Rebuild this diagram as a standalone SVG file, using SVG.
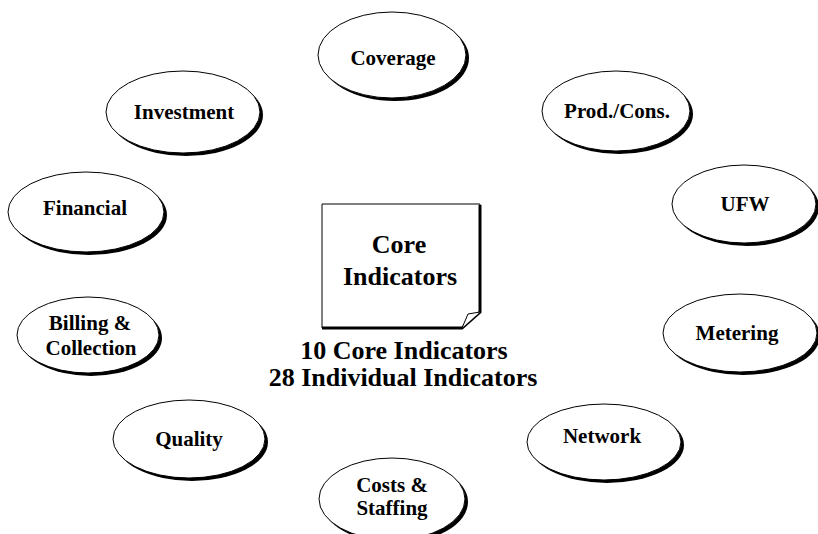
<svg xmlns="http://www.w3.org/2000/svg" width="818" height="534" viewBox="0 0 818 534">
<style>
.sh{fill:#000}
.el{fill:#fff;stroke:#000;stroke-width:1}
text{font-family:'Liberation Serif','Times New Roman',serif;font-weight:bold;text-anchor:middle;fill:#000}
.lb{font-size:21px}
.big{font-size:26px}
</style>
<rect width="818" height="534" fill="#fff"/>
<g id="coverage"><ellipse class="sh" cx="395" cy="58" rx="74" ry="43"/><ellipse class="el" cx="392" cy="55" rx="74" ry="43"/><text class="lb" x="393" y="65">Coverage</text></g>
<g id="investment"><ellipse class="sh" cx="186" cy="115" rx="77" ry="41"/><ellipse class="el" cx="183" cy="112" rx="77" ry="41"/><text class="lb" x="184" y="119">Investment</text></g>
<g id="prodcons"><ellipse class="sh" cx="619" cy="114" rx="74" ry="40"/><ellipse class="el" cx="616" cy="111" rx="74" ry="40"/><text class="lb" x="617" y="118">Prod./Cons.</text></g>
<g id="financial"><ellipse class="sh" cx="89" cy="215" rx="78" ry="40"/><ellipse class="el" cx="86" cy="212" rx="78" ry="40"/><text class="lb" x="85" y="215">Financial</text></g>
<g id="ufw"><ellipse class="sh" cx="747" cy="207" rx="72" ry="39"/><ellipse class="el" cx="744" cy="204" rx="72" ry="39"/><text class="lb" x="745" y="211">UFW</text></g>
<g id="billing"><ellipse class="sh" cx="91" cy="338" rx="71" ry="38"/><ellipse class="el" cx="88" cy="335" rx="71" ry="38"/><text class="lb" x="90" y="330">Billing &amp;</text><text class="lb" x="91" y="355">Collection</text></g>
<g id="metering"><ellipse class="sh" cx="743" cy="336" rx="77" ry="39"/><ellipse class="el" cx="740" cy="333" rx="77" ry="39"/><text class="lb" x="737" y="340">Metering</text></g>
<g id="quality"><ellipse class="sh" cx="192" cy="442" rx="76" ry="39"/><ellipse class="el" cx="189" cy="439" rx="76" ry="39"/><text class="lb" x="189" y="446">Quality</text></g>
<g id="network"><ellipse class="sh" cx="607" cy="445" rx="77" ry="38"/><ellipse class="el" cx="604" cy="442" rx="77" ry="38"/><text class="lb" x="602" y="443">Network</text></g>
<g id="costs"><ellipse class="sh" cx="395" cy="502" rx="73" ry="41"/><ellipse class="el" cx="392" cy="499" rx="73" ry="41"/><text class="lb" x="392" y="492">Costs &amp;</text><text class="lb" x="392" y="515">Staffing</text></g>
<g id="core">
<path d="M322,204 H480 V312 L462,328 H322 Z" fill="#fff" stroke="#000" stroke-width="1"/>
<path d="M322,328 H462 L480,312 V205" fill="none" stroke="#000" stroke-width="3"/>
<path d="M462,328 L468,314 L480,312" fill="#fff" stroke="#000" stroke-width="1"/>
<text class="big" x="399" y="253">Core</text>
<text class="big" x="400" y="285">Indicators</text>
</g>
<g id="summary">
<text class="big" x="404" y="359">10 Core Indicators</text>
<text class="big" x="403" y="386">28 Individual Indicators</text>
</g>
<g id="connectors"/>
</svg>
